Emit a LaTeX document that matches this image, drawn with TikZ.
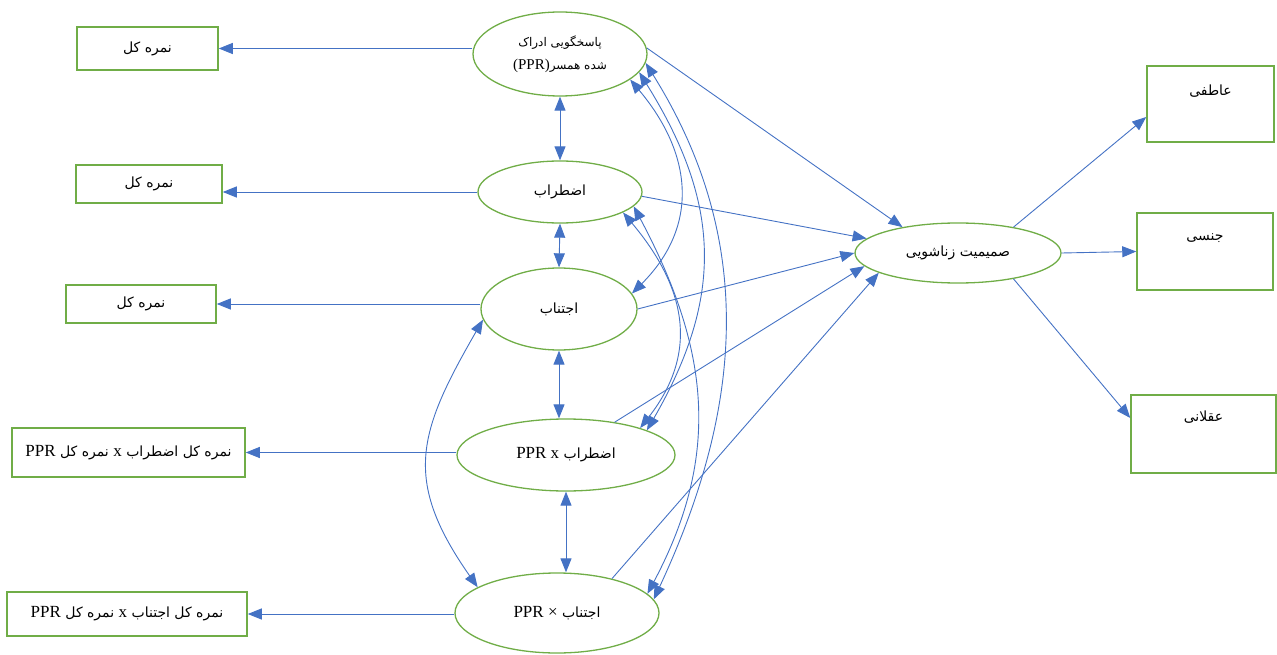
\documentclass[tikz,border=0pt]{standalone}
\usepackage{fontspec}
\setmainfont{Liberation Serif}
\newfontfamily\fa[Script=Arabic]{DejaVu Sans}
\TeXXeTstate=1
\usetikzlibrary{shapes.geometric,arrows.meta,calc}
\definecolor{gr}{HTML}{70AD47}
\definecolor{bl}{HTML}{4472C4}
\newcommand\ar[1]{{\fa\beginR #1\endR}}
\newcommand\lt[1]{\beginL{\rmfamily\fontsize{17}{19}\selectfont #1}\endL}
\begin{document}
\begin{tikzpicture}[x=1pt,y=1pt,
  ell/.style={ellipse, draw=gr, line width=1.3pt, inner sep=0pt, font=\fontsize{14}{16}\selectfont},
  box/.style={rectangle, draw=gr, line width=1.5pt, inner sep=0pt, font=\fontsize{14}{16}\selectfont},
  arr/.style={draw=bl, line width=0.9pt, -{Triangle[length=14pt,width=11pt]}},
  darr/.style={draw=bl, line width=0.9pt, {Triangle[length=14pt,width=11pt]}-{Triangle[length=14pt,width=11pt]}},
  toplab/.style={anchor=center, yshift=-26pt, font=\fontsize{14}{16}\selectfont}
]
\useasboundingbox (0,0) rectangle (1277,-655);

% ellipses
\node[ell, minimum width=174, minimum height=84, align=center, font=\fontsize{12}{23}\selectfont] (ppr) at (560,-54)
  {\ar{پاسخگویی ادراک}\\ \ar{شده همسر\beginL{\rmfamily\fontsize{15}{17}\selectfont (PPR)}\endL}};
\node[ell, minimum width=164, minimum height=62] (anx) at (560,-192) {\ar{اضطراب}};
\node[ell, minimum width=156, minimum height=82] (avo) at (559,-309) {\ar{اجتناب}};
\node[ell, minimum width=218, minimum height=72] (pxa) at (566,-455) {\ar{اضطراب \lt{PPR x}}};
\node[ell, minimum width=204, minimum height=80] (pxv) at (557,-613) {\ar{اجتناب \lt{PPR ×}}};
\node[ell, minimum width=206, minimum height=60] (int) at (958,-253) {\ar{صمیمیت زناشویی}};

% left boxes
\node[box, minimum width=141, minimum height=43] (b1) at (147.5,-48.5) {\ar{نمره کل}};
\node[box, minimum width=146, minimum height=38] (b2) at (149,-184) {\ar{نمره کل}};
\node[box, minimum width=150, minimum height=38] (b3) at (141,-304) {\ar{نمره کل}};
\node[box, minimum width=233, minimum height=49] (b4) at (128.5,-452.5) {\ar{نمره کل اضطراب \lt{x} نمره کل \lt{PPR}}};
\node[box, minimum width=240, minimum height=44] (b5) at (127,-614) {\ar{نمره کل اجتناب \lt{x} نمره کل \lt{PPR}}};

% right boxes
\node[box, minimum width=127, minimum height=76, label={[toplab]north:\ar{عاطفی}}] (atifi) at (1210.5,-104) {};
\node[box, minimum width=136, minimum height=77, label={[toplab]north:\ar{جنسی}}] (jensi) at (1205,-251.5) {};
\node[box, minimum width=145, minimum height=78, label={[toplab,yshift=3pt]north:\ar{عقلانی}}] (aqlani) at (1203.5,-434) {};

% to left boxes
\draw[arr] (ppr.west |- b1.east) -- (b1.east);
\draw[arr] (anx.west) -- (anx.west -| b2.east);
\draw[arr] (avo.west |- b3.east) -- (b3.east);
\draw[arr] (pxa.west |- b4.east) -- (b4.east);
\draw[arr] (pxv.west |- b5.east) -- (b5.east);

% vertical double arrows
\draw[darr] (ppr.south) -- (anx.north);
\draw[darr] (anx.south) -- (avo.north);
\draw[darr] (avo.south) -- (avo.south |- pxa.north);
\draw[darr] (pxa.south) -- (pxa.south |- pxv.north);

% to intimacy
\draw[arr] (ppr.4) -- (int.155);
\draw[arr] (anx.-3) -- (int.171);
\draw[arr] (avo.0) -- (int.180);
\draw[arr] (pxa.34) -- (int.188);
\draw[arr] (pxv.32) -- (int.194);

% intimacy to right boxes
\draw[arr] (int.25) -- ([yshift=-13pt]atifi.west);
\draw[arr] (int.east) -- (jensi.west);
\draw[arr] (int.-25) -- ([yshift=16pt]aqlani.west);

% covariance curves
\draw[darr] (ppr.-20) to[out=-50,in=45,looseness=1.15] (avo.12);
\draw[darr] (ppr.-13) to[out=-58,in=60,looseness=1.1] (pxa.17);
\draw[darr] (ppr.-6) to[out=-58,in=65,looseness=1.0] (pxv.8);
\draw[darr] (anx.-18) to[out=-50,in=52,looseness=1.15] (pxa.20);
\draw[darr] (anx.-11) to[out=-62,in=62,looseness=1.05] (pxv.12);
\draw[darr] (avo.188) to[out=240,in=125,looseness=1.25] (pxv.162);
\end{tikzpicture}
\end{document}
